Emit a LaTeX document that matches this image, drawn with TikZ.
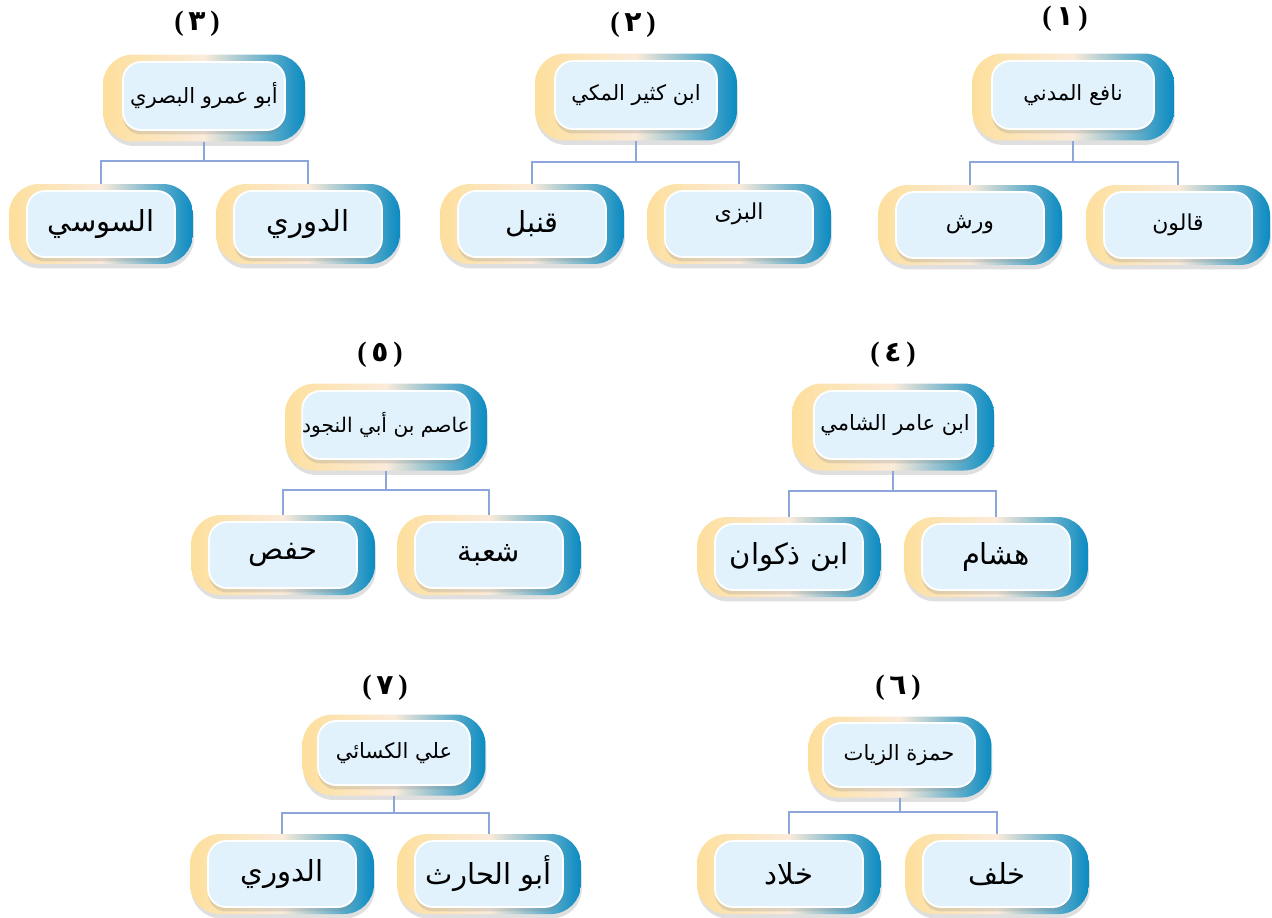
\documentclass[tikz,border=0pt]{standalone}
\usepackage{fontspec}
\setmainfont{Liberation Serif}
\newfontfamily\arabicfont[Script=Arabic]{DejaVu Sans}
\TeXXeTstate=1
\usetikzlibrary{shadows}
\definecolor{boxyellow}{HTML}{FDDF9C}
\definecolor{boxcream}{HTML}{FBEBDA}
\definecolor{boxblue}{HTML}{0A8BC2}
\definecolor{innerblue}{HTML}{E1F2FC}
\definecolor{linkblue}{HTML}{8CA5DB}

\begin{document}
\begin{tikzpicture}[x=0.02cm,y=-0.02cm]
        \tikzset{Outer/.style={%
                shape=rectangle,%
                rounded corners=0.6cm,%
                left color=boxyellow,%
                right color=boxblue,%
                middle color=boxcream,%
                drop shadow={shadow xshift=0.5pt, shadow yshift=-2.5pt, opacity=0.25},%
                minimum width=4.04cm,%
                minimum height=1.74cm,%
                inner sep=0pt,%
            },
            Inner/.style={%
                shape=rectangle,%
                rounded corners=0.36cm,%
                fill=innerblue,%
                draw=white,%
                line width=1pt,%
                drop shadow={shadow xshift=0pt, shadow yshift=-2.5pt, opacity=0.22},%
                minimum width=3.24cm,%
                minimum height=1.36cm,%
                inner sep=0pt,%
                font=\arabicfont\fontsize{12}{14}\selectfont,%
            },
            ChildOuter/.style={Outer, minimum width=3.68cm, minimum height=1.6cm},
            ChildInner/.style={Inner, minimum width=2.96cm, minimum height=1.32cm,
                font=\arabicfont\fontsize{16.5}{19}\selectfont},
            SmallOuter/.style={Outer, minimum width=3.66cm, minimum height=1.62cm},
            SmallInner/.style={Inner, minimum width=3.04cm, minimum height=1.28cm},
            Small/.style={font=\arabicfont\fontsize{12.5}{15}\selectfont},
            Num/.style={font=\bfseries\fontsize{16}{18}\selectfont},
            Link/.style={draw=linkblue, line width=1.1pt},
        }
        \useasboundingbox (0,0) rectangle (1272,917);

        \node[Num] (n1) at (1065,19) {(\,{\arabicfont ١}\,)};
        \node[Outer] (p1) at (1073,97) {};
        \node[Inner] (p1t) at (1073,95) {\beginR نافع المدني\endR};
        \node[ChildOuter] (a1) at (970,225) {};
        \node[ChildInner, Small] (a1t) at (970,225) {\beginR ورش\endR};
        \node[ChildOuter] (b1) at (1178,225) {};
        \node[ChildInner, Small] (b1t) at (1178,225) {\beginR قالون\endR};

        \node[Num] (n2) at (633,25) {(\,{\arabicfont ٢}\,)};
        \node[Outer] (p2) at (636,97) {};
        \node[Inner] (p2t) at (636,95) {\beginR ابن كثير المكي\endR};
        \node[ChildOuter] (a2) at (532,224) {};
        \node[ChildInner] (a2t) at (532,224) {\beginR قنبل\endR};
        \node[ChildOuter] (b2) at (739,224) {};
        \node[ChildInner, Small, text depth=0.5cm] (b2t) at (739,224) {\beginR البزى\endR};

        \node[Num] (n3) at (197,24) {(\,{\arabicfont ٣}\,)};
        \node[Outer] (p3) at (204,98) {};
        \node[Inner] (p3t) at (204,96) {\beginR أبو عمرو البصري\endR};
        \node[ChildOuter] (a3) at (101,224) {};
        \node[ChildInner] (a3t) at (101,224) {\beginR السوسي\endR};
        \node[ChildOuter] (b3) at (308,224) {};
        \node[ChildInner] (b3t) at (308,224) {\beginR الدوري\endR};

        \node[Num] (n4) at (893,355) {(\,{\arabicfont ٤}\,)};
        \node[Outer] (p4) at (893,427) {};
        \node[Inner] (p4t) at (895,425) {\beginR ابن عامر الشامي\endR};
        \node[ChildOuter] (a4) at (789,557) {};
        \node[ChildInner] (a4t) at (789,557) {\beginR ابن ذكوان\endR};
        \node[ChildOuter] (b4) at (996,557) {};
        \node[ChildInner] (b4t) at (996,557) {\beginR هشام\endR};

        \node[Num] (n5) at (380,355) {(\,{\arabicfont ٥}\,)};
        \node[Outer] (p5) at (386,427) {};
        \node[Inner, font=\arabicfont\fontsize{11.5}{14}\selectfont] (p5t) at (386,425) {\beginR عاصم بن أبي النجود\endR};
        \node[ChildOuter] (a5) at (283,555) {};
        \node[ChildInner] (a5t) at (283,555) {\beginR حفص\endR};
        \node[ChildOuter] (b5) at (489,555) {};
        \node[ChildInner] (b5t) at (489,555) {\beginR شعبة\endR};

        \node[Num] (n6) at (898,688) {(\,{\arabicfont ٦}\,)};
        \node[SmallOuter] (p6) at (900,757) {};
        \node[SmallInner] (p6t) at (899,755) {\beginR حمزة الزيات\endR};
        \node[ChildOuter] (a6) at (789,874) {};
        \node[ChildInner] (a6t) at (789,874) {\beginR خلاد\endR};
        \node[ChildOuter] (b6) at (997,874) {};
        \node[ChildInner] (b6t) at (997,874) {\beginR خلف\endR};

        \node[Num] (n7) at (385,688) {(\,{\arabicfont ٧}\,)};
        \node[SmallOuter] (p7) at (394,755) {};
        \node[SmallInner] (p7t) at (394,753) {\beginR علي الكسائي\endR};
        \node[ChildOuter] (a7) at (282,874) {};
        \node[ChildInner] (a7t) at (282,874) {\beginR الدوري\endR};
        \node[ChildOuter] (b7) at (489,874) {};
        \node[ChildInner] (b7t) at (489,874) {\beginR أبو الحارث\endR};

        \draw[Link] (p1.south) -- ++(0,21) -| (a1.north);
        \draw[Link] (p1.south) -- ++(0,21) -| (b1.north);
        \draw[Link] (p2.south) -- ++(0,21) -| (a2.north);
        \draw[Link] (p2.south) -- ++(0,21) -| (b2.north);
        \draw[Link] (p3.south) -- ++(0,19) -| (a3.north);
        \draw[Link] (p3.south) -- ++(0,19) -| (b3.north);
        \draw[Link] (p4.south) -- ++(0,20) -| (a4.north);
        \draw[Link] (p4.south) -- ++(0,20) -| (b4.north);
        \draw[Link] (p5.south) -- ++(0,19) -| (a5.north);
        \draw[Link] (p5.south) -- ++(0,19) -| (b5.north);
        \draw[Link] (p6.south) -- ++(0,14) -| (a6.north);
        \draw[Link] (p6.south) -- ++(0,14) -| (b6.north);
        \draw[Link] (p7.south) -- ++(0,17) -| (a7.north);
        \draw[Link] (p7.south) -- ++(0,17) -| (b7.north);
\end{tikzpicture}
\end{document}
